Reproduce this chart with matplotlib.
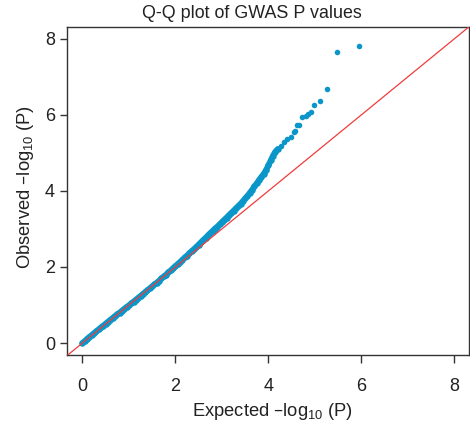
import matplotlib
matplotlib.use("Agg")
import matplotlib.pyplot as plt

plt.rcParams['font.family'] = ['Liberation Sans', 'DejaVu Sans']

# dense part of the Q-Q curve (expected, observed -log10 P)
expected = [0.00, 0.05, 0.10, 0.15, 0.20, 0.25, 0.30, 0.35, 0.40, 0.45,
            0.50, 0.55, 0.60, 0.65, 0.70, 0.75, 0.80, 0.85, 0.90, 0.95,
            1.00, 1.05, 1.10, 1.15, 1.20, 1.25, 1.30, 1.35, 1.40, 1.45,
            1.50, 1.55, 1.60, 1.65, 1.70, 1.75, 1.80, 1.85, 1.90, 1.95,
            2.00, 2.05, 2.10, 2.15, 2.20, 2.25, 2.30, 2.35, 2.40, 2.45,
            2.50, 2.55, 2.60, 2.65, 2.70, 2.75, 2.80, 2.85, 2.90, 2.95,
            3.00, 3.05, 3.10, 3.15, 3.20, 3.25, 3.30, 3.35, 3.40, 3.45,
            3.50, 3.55, 3.60, 3.65, 3.70, 3.75, 3.80, 3.85, 3.90, 3.95,
            4.00, 4.05, 4.10, 4.15, 4.20]
observed = [0.00, 0.05, 0.11, 0.16, 0.21, 0.26, 0.31, 0.36, 0.41, 0.46,
            0.51, 0.56, 0.61, 0.66, 0.71, 0.76, 0.80, 0.85, 0.90, 0.95,
            0.99, 1.04, 1.09, 1.14, 1.19, 1.24, 1.29, 1.34, 1.39, 1.44,
            1.49, 1.54, 1.59, 1.64, 1.70, 1.75, 1.80, 1.86, 1.91, 1.97,
            2.02, 2.08, 2.13, 2.19, 2.25, 2.30, 2.36, 2.42, 2.47, 2.53,
            2.59, 2.65, 2.71, 2.77, 2.83, 2.89, 2.95, 3.01, 3.06, 3.12,
            3.18, 3.24, 3.30, 3.36, 3.42, 3.48, 3.54, 3.60, 3.66, 3.73,
            3.80, 3.87, 3.95, 4.03, 4.12, 4.20, 4.29, 4.37, 4.45, 4.55,
            4.67, 4.80, 4.93, 5.03, 5.10]

# sparse tail
expected_top = [4.27, 4.34, 4.41, 4.48, 4.55, 4.58, 4.62, 4.66, 4.73, 4.80,
                4.86, 4.91, 4.99, 5.10, 5.25, 5.48, 5.95]
observed_top = [5.19, 5.28, 5.37, 5.42, 5.54, 5.58, 5.72, 5.74, 5.93, 5.98,
                6.03, 6.08, 6.25, 6.36, 6.68, 7.65, 7.81]

ticks = [0, 2, 4, 6, 8]

blue = '#0a96c8'
grey = '#333333'

fig = plt.figure(figsize=(4.70, 4.28), dpi=100)
ax = fig.add_axes([0.1436, 0.170, 0.855, 0.768])

ax.plot(expected, observed, color=blue, lw=4.2, solid_capstyle='round',
        solid_joinstyle='round', zorder=2)
ax.scatter(expected, observed, s=22, color=blue, linewidths=0, zorder=2)
ax.scatter(expected_top, observed_top, s=16, color=blue, linewidths=0, zorder=2)
ax.axline((0, 0), slope=1, color='#f03c3c', lw=0.9, zorder=3)

ax.set_xlim(-0.32, 8.32)
ax.set_ylim(-0.32, 8.32)
ax.set_xticks(ticks)
ax.set_yticks(ticks)
for s in ax.spines.values():
    s.set_color(grey)
    s.set_linewidth(1.0)
ax.tick_params(axis='x', length=5.5, width=1, color=grey, labelsize=13,
               labelcolor='#222222', pad=11)
ax.tick_params(axis='y', length=5, width=1, color=grey, labelsize=13,
               labelcolor='#222222', pad=4)

fig.text(252 / 470, 1 - 14 / 428, 'Q-Q plot of GWAS P values', ha='center',
         va='center', fontsize=12.9, color='#222222')
fig.text(272 / 470, 1 - 412 / 428, r'Expected –log$_{\mathregular{10}}$ (P)',
         ha='center', va='center', fontsize=13.2, color='#222222')
fig.text(26 / 470, 1 - 187 / 428, r'Observed –log$_{\mathregular{10}}$ (P)',
         ha='center', va='center', rotation=90, fontsize=13.2, color='#222222')

fig.savefig('out.png', dpi=100)
